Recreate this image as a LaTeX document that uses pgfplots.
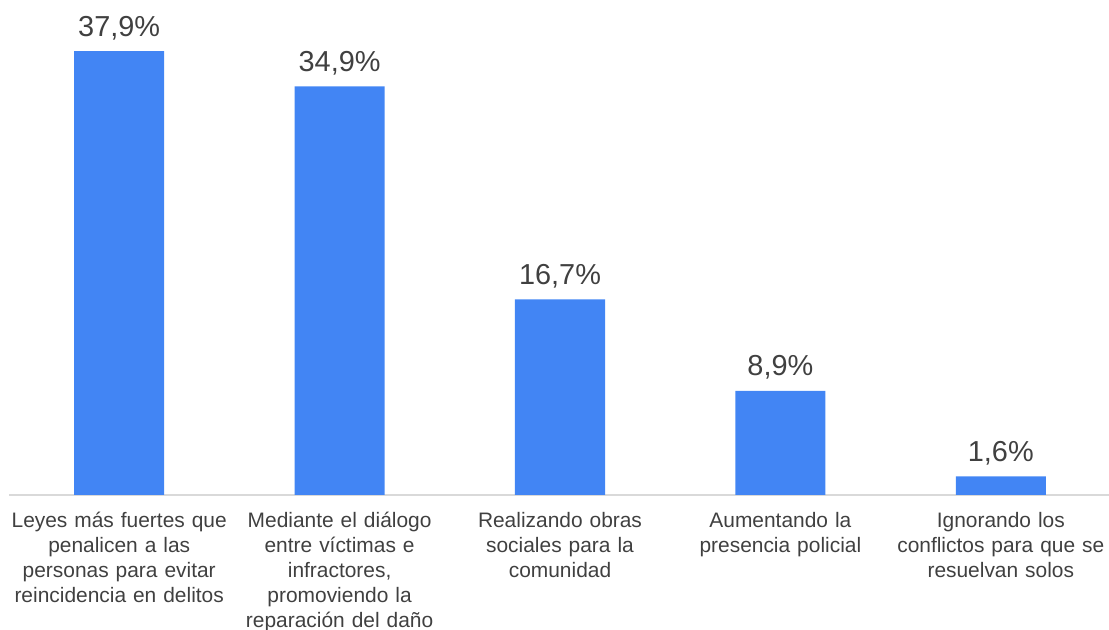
\documentclass[border=0pt]{standalone}
\usepackage{fontspec}
\setmainfont{Liberation Sans}
\usepackage{pgfplots}
\pgfplotsset{compat=1.18}
\definecolor{barblue}{HTML}{4285F4}
\definecolor{txt}{HTML}{404040}
\definecolor{axl}{HTML}{D9D9D9}
\begin{document}
\begin{tikzpicture}[x=1bp,y=1bp]
\path[use as bounding box] (0,0) rectangle (1109,630);
\begin{axis}[
  at={(9bp,135bp)}, anchor=south west,
  scale only axis, width=1102bp, height=495bp,
  xmin=-0.5, xmax=4.5, ymin=0, ymax=42.27,
  axis x line*=bottom, axis y line=none,
  x axis line style={draw=axl, line width=1.5bp},
  ytick=\empty,
  xtick={0,1,2,3,4},
  xticklabels={
    {Leyes más fuertes que\\penalicen a las\\personas para evitar\\reincidencia en delitos},
    {Mediante el diálogo\\entre víctimas e\\infractores,\\promoviendo la\\reparación del daño},
    {Realizando obras\\sociales para la\\comunidad},
    {Aumentando la\\presencia policial},
    {Ignorando los\\conflictos para que se\\resuelvan solos}},
  major tick length=0pt,
  xticklabel style={text width=225bp, align=center, font=\fontsize{21}{25}\selectfont, text=txt, inner sep=0pt, anchor=north, yshift=-17bp},
  ybar, bar width=90bp,
  nodes near coords={\pgfmathprintnumber[use comma, fixed, fixed zerofill, precision=1, assume math mode=true]{\pgfplotspointmeta}\%},
  every node near coord/.append style={font=\fontsize{29}{34}\selectfont, text=txt, anchor=base, inner sep=0pt, yshift=15bp},
  clip=false,
]
\addplot[fill=barblue, draw=none] coordinates {(0,37.9) (1,34.9) (2,16.7) (3,8.9) (4,1.6)};
\end{axis}
\end{tikzpicture}
\end{document}
